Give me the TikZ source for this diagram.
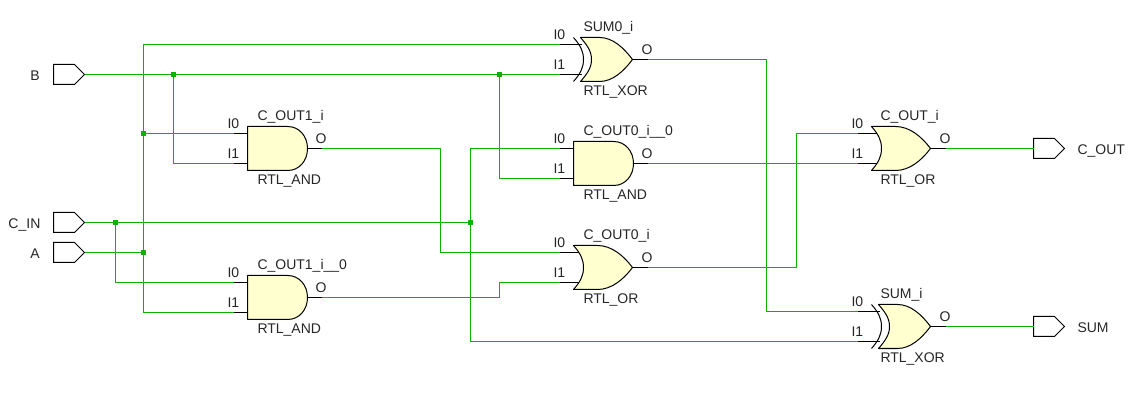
\documentclass[tikz,border=0pt]{standalone}
\usepackage{fontspec}
\setmainfont{Liberation Sans}
\definecolor{wirec}{RGB}{10,178,0}
\definecolor{gatec}{RGB}{255,255,208}
\tikzset{
  wire/.style={draw=wirec,line width=1pt},
  pinline/.style={draw=black,line width=1pt},
  gatebody/.style={draw=black,line width=1pt,fill=gatec,line join=round},
  portbody/.style={draw=black,line width=1pt,fill=white},
  lbl/.style={anchor=base west,inner sep=0pt,outer sep=0pt,font=\fontsize{14}{14}\selectfont,text=black!85},
  junction/.style={fill=wirec,draw=none,minimum size=5pt,inner sep=0pt,outer sep=0pt,rectangle}
}
\newcommand\lbladj{10}
% #1 name, #2 left x, #3 middle y, #4 instance text, #5 cell text
\newcommand\gatelabels[5]{%
  \node[lbl] (#1-i0) at (#2-20,#3-20) {I0};
  \node[lbl] (#1-i1) at (#2-20,#3+10) {I1};
  \node[lbl] (#1-o) at (#2+68,#3-5) {O};
  \node[lbl] (#1-inst) at (#2+\lbladj,#3-28) {#4};
  \node[lbl] (#1-cell) at (#2+\lbladj,#3+36) {#5};
  \coordinate (#1-I0) at (#2-14,#3-15);
  \coordinate (#1-I1) at (#2-14,#3+15);
  \coordinate (#1-O) at (#2+74,#3);
}
\newcommand\andgate[5]{%
  \gatelabels{#1}{#2}{#3}{#4}{#5}
  \draw[pinline] (#2-14,#3-15) -- (#2,#3-15) (#2-14,#3+15) -- (#2,#3+15) (#2+60,#3) -- (#2+74,#3);
  \draw[gatebody] (#2,#3-22) -- (#2+40,#3-22) .. controls (#2+52,#3-22) and (#2+60,#3-12) .. (#2+60,#3) .. controls (#2+60,#3+12) and (#2+52,#3+22) .. (#2+40,#3+22) -- (#2,#3+22) -- cycle;
}
\newcommand\orgate[5]{%
  \gatelabels{#1}{#2}{#3}{#4}{#5}
  \draw[pinline] (#2-14,#3-15) -- (#2+6,#3-15) (#2-14,#3+15) -- (#2+6,#3+15) (#2+59,#3) -- (#2+74,#3);
  \draw[gatebody] (#2,#3-22) -- (#2+24,#3-22) .. controls (#2+38,#3-22) and (#2+50,#3-12) .. (#2+59,#3) .. controls (#2+50,#3+12) and (#2+38,#3+22) .. (#2+24,#3+22) -- (#2,#3+22) .. controls (#2+7,#3+14) and (#2+10,#3+8) .. (#2+10,#3) .. controls (#2+10,#3-8) and (#2+7,#3-14) .. (#2,#3-22) -- cycle;
}
\newcommand\xorgate[5]{%
  \gatelabels{#1}{#2}{#3}{#4}{#5}
  \draw[pinline] (#2-14,#3-15) -- (#2+8,#3-15) (#2-14,#3+15) -- (#2+8,#3+15) (#2+59,#3) -- (#2+74,#3);
  \draw[gatebody] (#2+7,#3-22) -- (#2+26,#3-22) .. controls (#2+39,#3-22) and (#2+50,#3-12) .. (#2+59,#3) .. controls (#2+50,#3+12) and (#2+39,#3+22) .. (#2+26,#3+22) -- (#2+7,#3+22) .. controls (#2+14,#3+14) and (#2+18,#3+8) .. (#2+18,#3) .. controls (#2+18,#3-8) and (#2+14,#3-14) .. (#2+7,#3-22) -- cycle;
  \draw[pinline] (#2,#3-22) .. controls (#2+7,#3-14) and (#2+10,#3-8) .. (#2+10,#3) .. controls (#2+10,#3+8) and (#2+7,#3+14) .. (#2,#3+22);
}
% #1 name, #2 left x, #3 y
\newcommand\portshape[3]{%
  \draw[portbody] (#2,#3-10) -- (#2+21,#3-10) -- (#2+31,#3) -- (#2+21,#3+10) -- (#2,#3+10) -- cycle;
  \coordinate (#1-W) at (#2,#3);
  \coordinate (#1-E) at (#2+31,#3);
}
\begin{document}
\begin{tikzpicture}[x=1pt,y=-1pt]
\useasboundingbox (0,0) rectangle (1138,403);
\fill[white] (0,0) rectangle (1138,403);
\begin{scope}[shift={(0.5,0.5)}]

% junctions and bends
\coordinate (jb1) at (173,74);
\coordinate (jb2) at (499,74);
\coordinate (jc1) at (115,222);
\coordinate (jc2) at (470,222);
\coordinate (ja1) at (143,252);
\coordinate (ja2) at (143,133);
\coordinate (b1) at (440,148);
\coordinate (b2) at (440,252);
\coordinate (b3) at (499,297);
\coordinate (b4) at (499,282);
\coordinate (b5) at (796,267);
\coordinate (b6) at (796,133);
\coordinate (b7) at (766,59);
\coordinate (b8) at (766,311);

% ports
\portshape{B}{53}{74}
\portshape{CIN}{53}{222}
\portshape{A}{53}{252}
\portshape{COUT}{1033}{148}
\portshape{SUM}{1033}{326}
\node[lbl] (lB) at (30,80) {B};
\node[lbl] (lCIN) at (8,228) {C\_IN};
\node[lbl] (lA) at (30,258) {A};
\node[lbl] (lCOUT) at (1077,154) {C\_OUT};
\node[lbl] (lSUM) at (1077,332) {SUM};

% gates
\xorgate{sumz}{573}{59}{SUM0\_i}{RTL\_XOR}
\andgate{cone}{247}{148}{C\_OUT1\_i}{RTL\_AND}
\andgate{conez}{247}{297}{C\_OUT1\_i\_\_0}{RTL\_AND}
\andgate{czero}{573}{163}{C\_OUT0\_i\_\_0}{RTL\_AND}
\orgate{czor}{573}{267}{C\_OUT0\_i}{RTL\_OR}
\renewcommand\lbladj{9}
\orgate{cout}{871}{148}{C\_OUT\_i}{RTL\_OR}
\xorgate{sum}{871}{326}{SUM\_i}{RTL\_XOR}

% connectors
\draw[wire] (B-E) -- (sumz-I1);
\draw[wire] (jb1) |- (cone-I1);
\draw[wire] (jb2) |- (czero-I1);
\draw[wire] (CIN-E) -- (jc2);
\draw[wire] (jc1) |- (conez-I0);
\draw[wire] (jc2) |- (czero-I0);
\draw[wire] (jc2) |- (sum-I1);
\draw[wire] (A-E) -- (ja1);
\draw[wire] (ja1) |- (sumz-I0);
\draw[wire] (ja1) |- (conez-I1);
\draw[wire] (ja2) -- (cone-I0);
\draw[wire] (cone-O) -- (b1) -- (b2) -- (czor-I0);
\draw[wire] (conez-O) -- (b3) -- (b4) -- (czor-I1);
\draw[wire] (czero-O) -- (cout-I1);
\draw[wire] (czor-O) -- (b5) -- (b6) -- (cout-I0);
\draw[wire] (sumz-O) -- (b7) -- (b8) -- (sum-I0);
\draw[wire] (cout-O) -- (COUT-W);
\draw[wire] (sum-O) -- (SUM-W);

\node[junction] (nb1) at (jb1) {};
\node[junction] (nb2) at (jb2) {};
\node[junction] (nc1) at (jc1) {};
\node[junction] (nc2) at (jc2) {};
\node[junction] (na1) at (ja1) {};
\node[junction] (na2) at (ja2) {};
\end{scope}
\end{tikzpicture}
\end{document}
